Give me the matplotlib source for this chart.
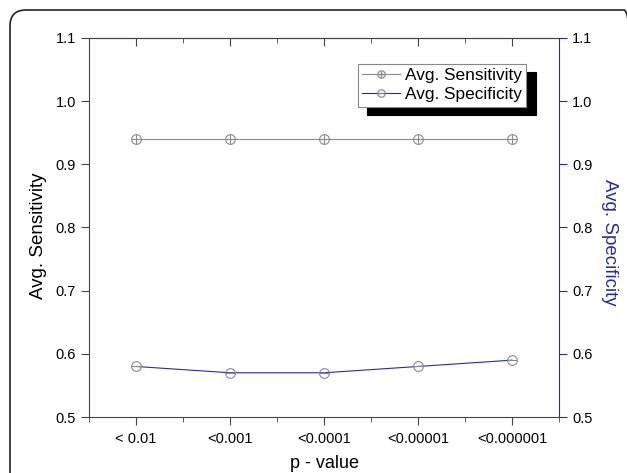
import matplotlib.pyplot as plt
from matplotlib.patches import FancyBboxPatch
from matplotlib.ticker import MultipleLocator

plt.rcParams['font.family'] = ['Liberation Sans', 'DejaVu Sans']

# dados
categorias = ['< 0.01', '<0.001', '<0.0001', '<0.00001', '<0.000001']
sensibilidade = [0.94, 0.94, 0.94, 0.94, 0.94]
especificidade = [0.58, 0.57, 0.57, 0.58, 0.59]

x = list(range(1, len(categorias) + 1))
azul = '#2b2b9a'
cinza = '#8a8a8a'

fig = plt.figure(figsize=(6.27, 4.73), dpi=100)

# moldura arredondada (em polegadas)
moldura = FancyBboxPatch((0.10, -0.5), 6.30, 4.63 + 0.5,
                         boxstyle='round,pad=0,rounding_size=0.16', transform=fig.dpi_scale_trans,
                         fill=False, edgecolor='#222222', linewidth=1.2, clip_on=False)
fig.patches.append(moldura)

ax = fig.add_axes([89 / 627, 1 - 417 / 473, (559 - 89) / 627, (417 - 38) / 473])
ax2 = ax.twinx()

ax.plot(x, sensibilidade, color=cinza, linewidth=0.8, marker='o', markersize=7,
        markerfacecolor='none', markeredgecolor=cinza, markeredgewidth=0.8, zorder=3)
ax.plot(x, sensibilidade, linestyle='none', marker='+', markersize=7,
        markeredgecolor=cinza, markeredgewidth=0.8, zorder=4)
ax2.plot(x, especificidade, color=azul, linewidth=0.8, marker='o', markersize=7,
         markerfacecolor='none', markeredgecolor=cinza, markeredgewidth=0.8, zorder=3)
ax2.plot(x, especificidade, linestyle='none', marker='_', markersize=7,
         markeredgecolor=cinza, markeredgewidth=0.8, zorder=4)

for a in (ax, ax2):
    a.set_ylim(0.5, 1.1)
    a.yaxis.set_major_locator(MultipleLocator(0.1))
ax.set_xlim(0.5, 5.5)
ax.set_xticks(x)
ax.set_xticklabels(categorias)
ax.xaxis.set_minor_locator(MultipleLocator(0.5))
ax.tick_params(axis='x', which='major', direction='out', length=6, labelsize=10.5, pad=5,
               color='#444444')
ax.tick_params(axis='x', which='minor', direction='out', length=3.5, color='#444444')
ax.tick_params(axis='y', direction='out', length=6, labelsize=10.5, color='#444444')

# eixo de cima com ticks para dentro
topo = ax.secondary_xaxis('top')
topo.set_xticks(x)
topo.xaxis.set_minor_locator(MultipleLocator(0.5))
topo.tick_params(axis='x', which='major', direction='in', length=6, labeltop=False,
                 color='#444444')
topo.tick_params(axis='x', which='minor', direction='in', length=3.5, color='#444444')
topo.spines['top'].set_color('#444444')

ax2.tick_params(axis='y', direction='out', length=6, labelsize=10.5, color=azul)
ax2.spines['right'].set_color(azul)
for lado in ['left', 'top', 'bottom']:
    ax.spines[lado].set_color('#444444')
ax.spines['right'].set_visible(False)
for lado in ['left', 'top', 'bottom']:
    ax2.spines[lado].set_visible(False)

ax.set_ylabel('Avg. Sensitivity', fontsize=13.5, labelpad=6)
ax2.set_ylabel('Avg. Specificity', fontsize=13.5, color=azul, rotation=-90, labelpad=18)
ax.yaxis.label.set_y(0.478)
ax2.yaxis.label.set_y(0.462)
ax.set_xlabel('p - value', fontsize=13, labelpad=6)

# legenda
h1 = ax.plot([], [], color=cinza, linewidth=0.8, marker='$\\oplus$', markersize=6,
             markeredgewidth=0.2, markerfacecolor=cinza, markeredgecolor=cinza)[0]
h2 = ax.plot([], [], color=azul, linewidth=0.8, marker='$\\ominus$', markersize=6,
             markeredgewidth=0.2, markerfacecolor=cinza, markeredgecolor=cinza)[0]
leg = ax2.legend([h1, h2], ['Avg. Sensitivity', 'Avg. Specificity'], loc='upper right',
                 bbox_to_anchor=(0.93, 0.932), fontsize=12.4, frameon=True, fancybox=False,
                 shadow={'color': 'black', 'alpha': 1, 'ox': 7, 'oy': -6},
                 handlelength=2.2, handletextpad=0.3, borderpad=0.25, labelspacing=0.25,
                 borderaxespad=0)
leg.get_frame().set_edgecolor('#888888')
leg.get_frame().set_linewidth(0.8)

plt.savefig('out.png', dpi=100)
